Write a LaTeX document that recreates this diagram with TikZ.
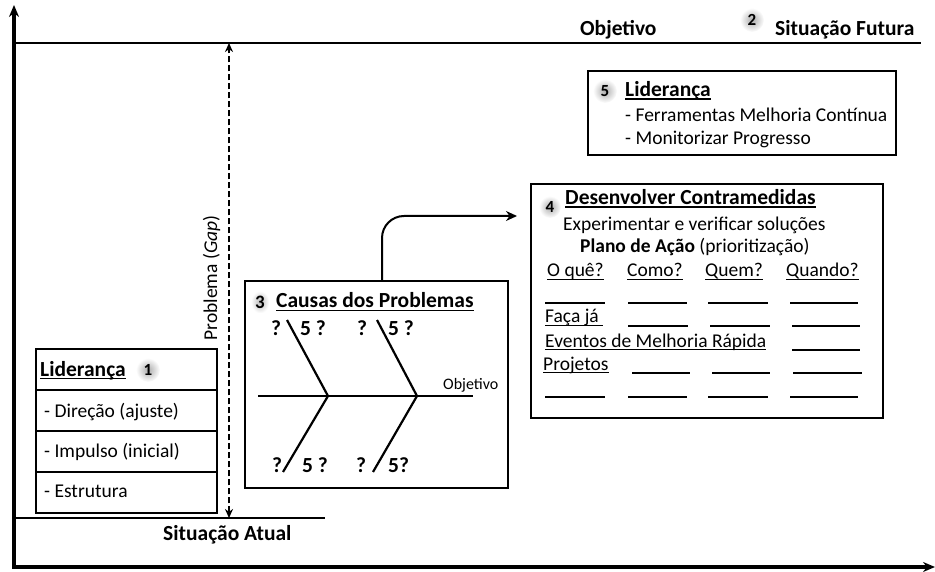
\documentclass[tikz,border=0pt]{standalone}
\usepackage{fontspec}
\setmainfont{Carlito}
\usetikzlibrary{arrows.meta,calc}
% text with a thick rule underneath
\newcommand{\ulin}[1]{\sbox0{#1}\rlap{\rule[-3pt]{\wd0}{1.5pt}}\usebox0}
\begin{document}
\begin{tikzpicture}[x=1pt,y=-1pt,
  txt/.style={font=\fontsize{19.5}{23}\selectfont, inner sep=0pt, anchor=base west},
  bf/.style={font=\fontsize{21.5}{25}\selectfont\bfseries, inner sep=0pt, anchor=base west},
  small/.style={font=\fontsize{16}{19}\selectfont, inner sep=0pt, anchor=base west},
  box/.style={draw, line width=1.8pt, inner sep=0pt, anchor=north west},
  badge/.style={circle, minimum size=24pt, inner sep=0pt, shade, inner color=gray!65, outer color=white, font=\fontsize{17}{20}\selectfont\bfseries},
  axis/.style={line width=3.5pt, -{Stealth[length=12pt,width=10pt]}},
  level/.style={line width=2.8pt},
  bone/.style={line width=2.2pt},
  blank/.style={line width=1.2pt},
]
\useasboundingbox (0,0) rectangle (935,572);

% axes
\coordinate (O) at (14,567);
\coordinate (yTip) at (14,5);
\coordinate (xTip) at (935,567);
\draw[axis] (O) -- (yTip);
\draw[axis] ($(O)+(-1.75,0)$) -- (xTip);

% target level and current level
\coordinate (futL) at (14,43);
\coordinate (futR) at (921,43);
\coordinate (atuL) at (14,518);
\coordinate (atuR) at (325,518);
\draw[level] (futL) -- (futR);
\draw[level] (atuL) -- (atuR);
\node[bf] (objTop) at (580,36) {Objetivo};
\node[badge] (b2) at (752,20) {2};
\node[bf] (futura) at (775,36) {Situação Futura};
\node[bf] (atual) at (163,540) {Situação Atual};

% gap between the two levels
\coordinate (gapTop) at (229,43);
\coordinate (gapBot) at (229,518);
\draw[line width=2.4pt, dash pattern=on 6pt off 3pt, {Stealth[length=9pt,width=8pt]}-{Stealth[length=9pt,width=8pt]}] (gapBot) -- (gapTop);
\node[txt, rotate=90, anchor=base] (gap) at (217,278) {Problema (\textit{Gap})};

% 1: leadership box
\node[box, minimum width=181pt, minimum height=164pt] (lid) at (35,348) {};
\draw[line width=1.2pt] ($(lid.north west)+(0,42)$) -- ($(lid.north east)+(0,42)$);
\draw[line width=1.2pt] ($(lid.north west)+(0,83)$) -- ($(lid.north east)+(0,83)$);
\draw[line width=1.2pt] ($(lid.north west)+(0,124)$) -- ($(lid.north east)+(0,124)$);
\node[bf] (lidT) at (40,376) {\ulin{Liderança}};
\node[badge] (b1) at (148,370) {1};
\node[txt] (lid1) at (44,417) {- Direção (ajuste)};
\node[txt] (lid2) at (44,457) {- Impulso (inicial)};
\node[txt] (lid3) at (44,497) {- Estrutura};

% 3: causes, fishbone
\node[box, minimum width=263pt, minimum height=207pt] (fish) at (244,280) {};
\node[rectangle, minimum width=18pt, minimum height=22pt, inner sep=0pt, shade, inner color=gray!55, outer color=white, font=\fontsize{19}{22}\selectfont\bfseries] (b3) at (260,302) {3};
\node[bf] (fishT) at (276,308) {\ulin{Causas dos Problemas}};
\coordinate (spL) at (258,396);
\coordinate (spR) at (473,396);
\coordinate (j1) at (328,396);
\coordinate (j2) at (417,396);
\coordinate (u1) at (287,320);
\coordinate (u2) at (377,320);
\coordinate (d1) at (283,472);
\coordinate (d2) at (373,472);
\draw[bone] (spL) -- (spR);
\draw[bone] (u1) -- (j1) -- (d1);
\draw[bone] (u2) -- (j2) -- (d2);
\node[small] (objFish) at (443,389) {Objetivo};
\node[bf] (q1) at (271,335) {?};
\node[bf] (q2) at (300,335) {5 ?};
\node[bf] (q3) at (357,335) {?};
\node[bf] (q4) at (388,335) {5 ?};
\node[bf] (q5) at (272,472) {?};
\node[bf] (q6) at (302,472) {5 ?};
\node[bf] (q7) at (356,472) {?};
\node[bf] (q8) at (388,472) {5?};

% 4: countermeasures
\node[box, minimum width=352pt, minimum height=234pt] (dev) at (530,183) {};
\node[badge, minimum size=22pt] (b4) at (550,207) {4};
\node[bf] (devT) at (565,205) {\ulin{Desenvolver Contramedidas}};
\node[txt] (exp) at (563,231) {Experimentar e verificar soluções};
\node[txt] (plano) at (580,253) {\textbf{Plano de Ação} (prioritização)};
\node[txt] (c1) at (547,277) {\ulin{O quê?}};
\node[txt] (c2) at (627,277) {\ulin{Como?}};
\node[txt] (c3) at (705,277) {\ulin{Quem?}};
\node[txt] (c4) at (786,277) {\ulin{Quando?}};
\node[txt] (faca) at (545,323) {\ulin{Faça já\hspace{4pt}}};
\node[txt] (evt) at (545,347) {\ulin{Eventos de Melhoria Rápida}};
\node[txt] (proj) at (543,370) {\ulin{Projetos}};
\foreach \y in {303,397} {
  \draw[blank] (545,\y) -- (605,\y);
  \draw[blank] (628,\y) -- (687,\y);
  \draw[blank] (708,\y) -- (768,\y);
  \draw[blank] (790,\y) -- (858,\y);
}
\draw[blank] (628,326) -- (688,326);
\draw[blank] (710,326) -- (770,326);
\draw[blank] (792,326) -- (860,326);
\draw[blank] (792,350) -- (860,350);
\draw[blank] (632,373) -- (690,373);
\draw[blank] (712,373) -- (770,373);
\draw[blank] (793,373) -- (862,373);

% flow from causes to countermeasures
\coordinate (arrEnd) at (517,216);
\draw[line width=2pt, rounded corners=22pt, -{Stealth[length=11pt,width=10pt]}] (fish.north -| 382,0) |- (arrEnd);

% 5: leadership, follow-up
\node[box, minimum width=308pt, minimum height=84pt] (lid5) at (587,70) {};
\node[badge] (b5) at (605,91) {5};
\node[bf] (lid5T) at (625,97) {\ulin{Liderança}};
\node[txt] (lid5a) at (625,122) {- Ferramentas Melhoria Contínua};
\node[txt] (lid5b) at (625,145) {- Monitorizar Progresso};
\end{tikzpicture}
\end{document}
